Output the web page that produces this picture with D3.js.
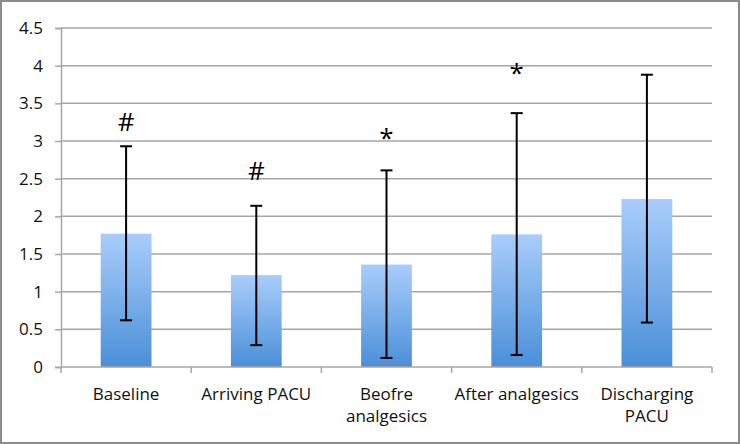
<!DOCTYPE html>
<html><head><meta charset="utf-8">
<script src="https://cdn.jsdelivr.net/npm/d3@7"></script>
<style>body{margin:0;background:#fff}svg{display:block}</style>
</head><body>
<svg id="c" width="740" height="444"></svg>
<script>
const categories = ["Baseline", "Arriving PACU", "Beofre\nanalgesics", "After analgesics", "Discharging\nPACU"];
const means = [1.77, 1.22, 1.36, 1.76, 2.23];
const errUpper = [2.93, 2.14, 2.61, 3.37, 3.88];
const errLower = [0.62, 0.29, 0.12, 0.16, 0.59];
const markers = ["#", "#", "*", "*", ""];
const markerPos = [3.27, 2.62, 3.05, 3.92, null];
const yTicks = [0, 0.5, 1, 1.5, 2, 2.5, 3, 3.5, 4, 4.5];

const svg = d3.select("#c");
const W = 740, H = 444;
const m = {l: 61, r: 28, t: 28, b: 77};
const x = d3.scaleBand().domain(categories).range([m.l, W - m.r]).paddingInner(0.61).paddingOuter(0.305);
const xb = d3.scaleBand().domain(categories).range([m.l, W - m.r]);
const y = d3.scaleLinear().domain([0, 4.5]).range([H - m.b, m.t]);
const font = "'Open Sans', sans-serif";

svg.append("rect").attr("x", 1).attr("y", 1).attr("width", W - 2).attr("height", H - 2)
  .attr("fill", "#fff").attr("stroke", "#8c8c8c").attr("stroke-width", 2);

const defs = svg.append("defs");
const g = defs.append("linearGradient").attr("id", "bg").attr("x1", 0).attr("y1", 0).attr("x2", 0).attr("y2", 1);
g.append("stop").attr("offset", "0%").attr("stop-color", "#a9cdfb");
g.append("stop").attr("offset", "100%").attr("stop-color", "#4a8fd8");

// gridlines
svg.append("g").selectAll("line").data(yTicks.filter(d => d > 0)).join("line")
  .attr("x1", m.l).attr("x2", W - m.r).attr("y1", d => y(d)).attr("y2", d => y(d))
  .attr("stroke", "#a6a6a6").attr("stroke-width", 1.5);

// y axis
const ya = svg.append("g").attr("transform", `translate(${m.l},0)`)
  .call(d3.axisLeft(y).tickValues(yTicks).tickSize(6).tickPadding(12).tickFormat(d3.format("")));
ya.select(".domain").attr("stroke", "#a6a6a6").attr("stroke-width", 1.5);
ya.selectAll(".tick line").attr("stroke", "#a6a6a6").attr("stroke-width", 1.5);
ya.selectAll("text").attr("font-family", font).attr("font-size", 17).attr("fill", "#111");

// bars
svg.append("g").selectAll("rect").data(categories).join("rect")
  .attr("x", d => x(d)).attr("width", x.bandwidth())
  .attr("y", (d, i) => y(means[i])).attr("height", (d, i) => y(0) - y(means[i]))
  .attr("fill", "url(#bg)");

// x axis
const xa = svg.append("g").attr("transform", `translate(0,${y(0)})`);
xa.append("line").attr("x1", m.l).attr("x2", W - m.r).attr("stroke", "#a6a6a6").attr("stroke-width", 1.5);
const bounds = categories.map(c => xb(c)).concat([W - m.r]);
xa.selectAll(".tk").data(bounds).join("line").attr("class", "tk")
  .attr("x1", d => d).attr("x2", d => d).attr("y1", 0).attr("y2", 6)
  .attr("stroke", "#a6a6a6").attr("stroke-width", 1.5);
xa.selectAll(".lbl").data(categories).join("text").attr("class", "lbl")
  .attr("font-family", font).attr("font-size", 17).attr("fill", "#111").attr("text-anchor", "middle")
  .each(function(d) {
    const t = d3.select(this);
    d.split("\n").forEach((s, k) => {
      t.append("tspan").attr("x", xb(d) + xb.bandwidth() / 2).attr("y", 33 + k * 22).text(s);
    });
  });

// error bars
const eb = svg.append("g").attr("stroke", "#000").attr("stroke-width", 2);
categories.forEach((c, i) => {
  const cx = x(c) + x.bandwidth() / 2;
  eb.append("line").attr("x1", cx).attr("x2", cx).attr("y1", y(errUpper[i])).attr("y2", y(errLower[i]));
  eb.append("line").attr("x1", cx - 6).attr("x2", cx + 6).attr("y1", y(errUpper[i])).attr("y2", y(errUpper[i]));
  eb.append("line").attr("x1", cx - 6).attr("x2", cx + 6).attr("y1", y(errLower[i])).attr("y2", y(errLower[i]));
});

// markers
svg.append("g").selectAll("text").data(categories.filter((c, i) => markers[i])).join("text")
  .attr("x", d => x(d) + x.bandwidth() / 2)
  .attr("y", d => y(markerPos[categories.indexOf(d)]))
  .attr("text-anchor", "middle").attr("dominant-baseline", "central")
  .attr("font-family", font).attr("font-size", d => markers[categories.indexOf(d)] === "#" ? 26 : 26)
  .attr("fill", "#000")
  .text(d => markers[categories.indexOf(d)]);
</script>
</body></html>
